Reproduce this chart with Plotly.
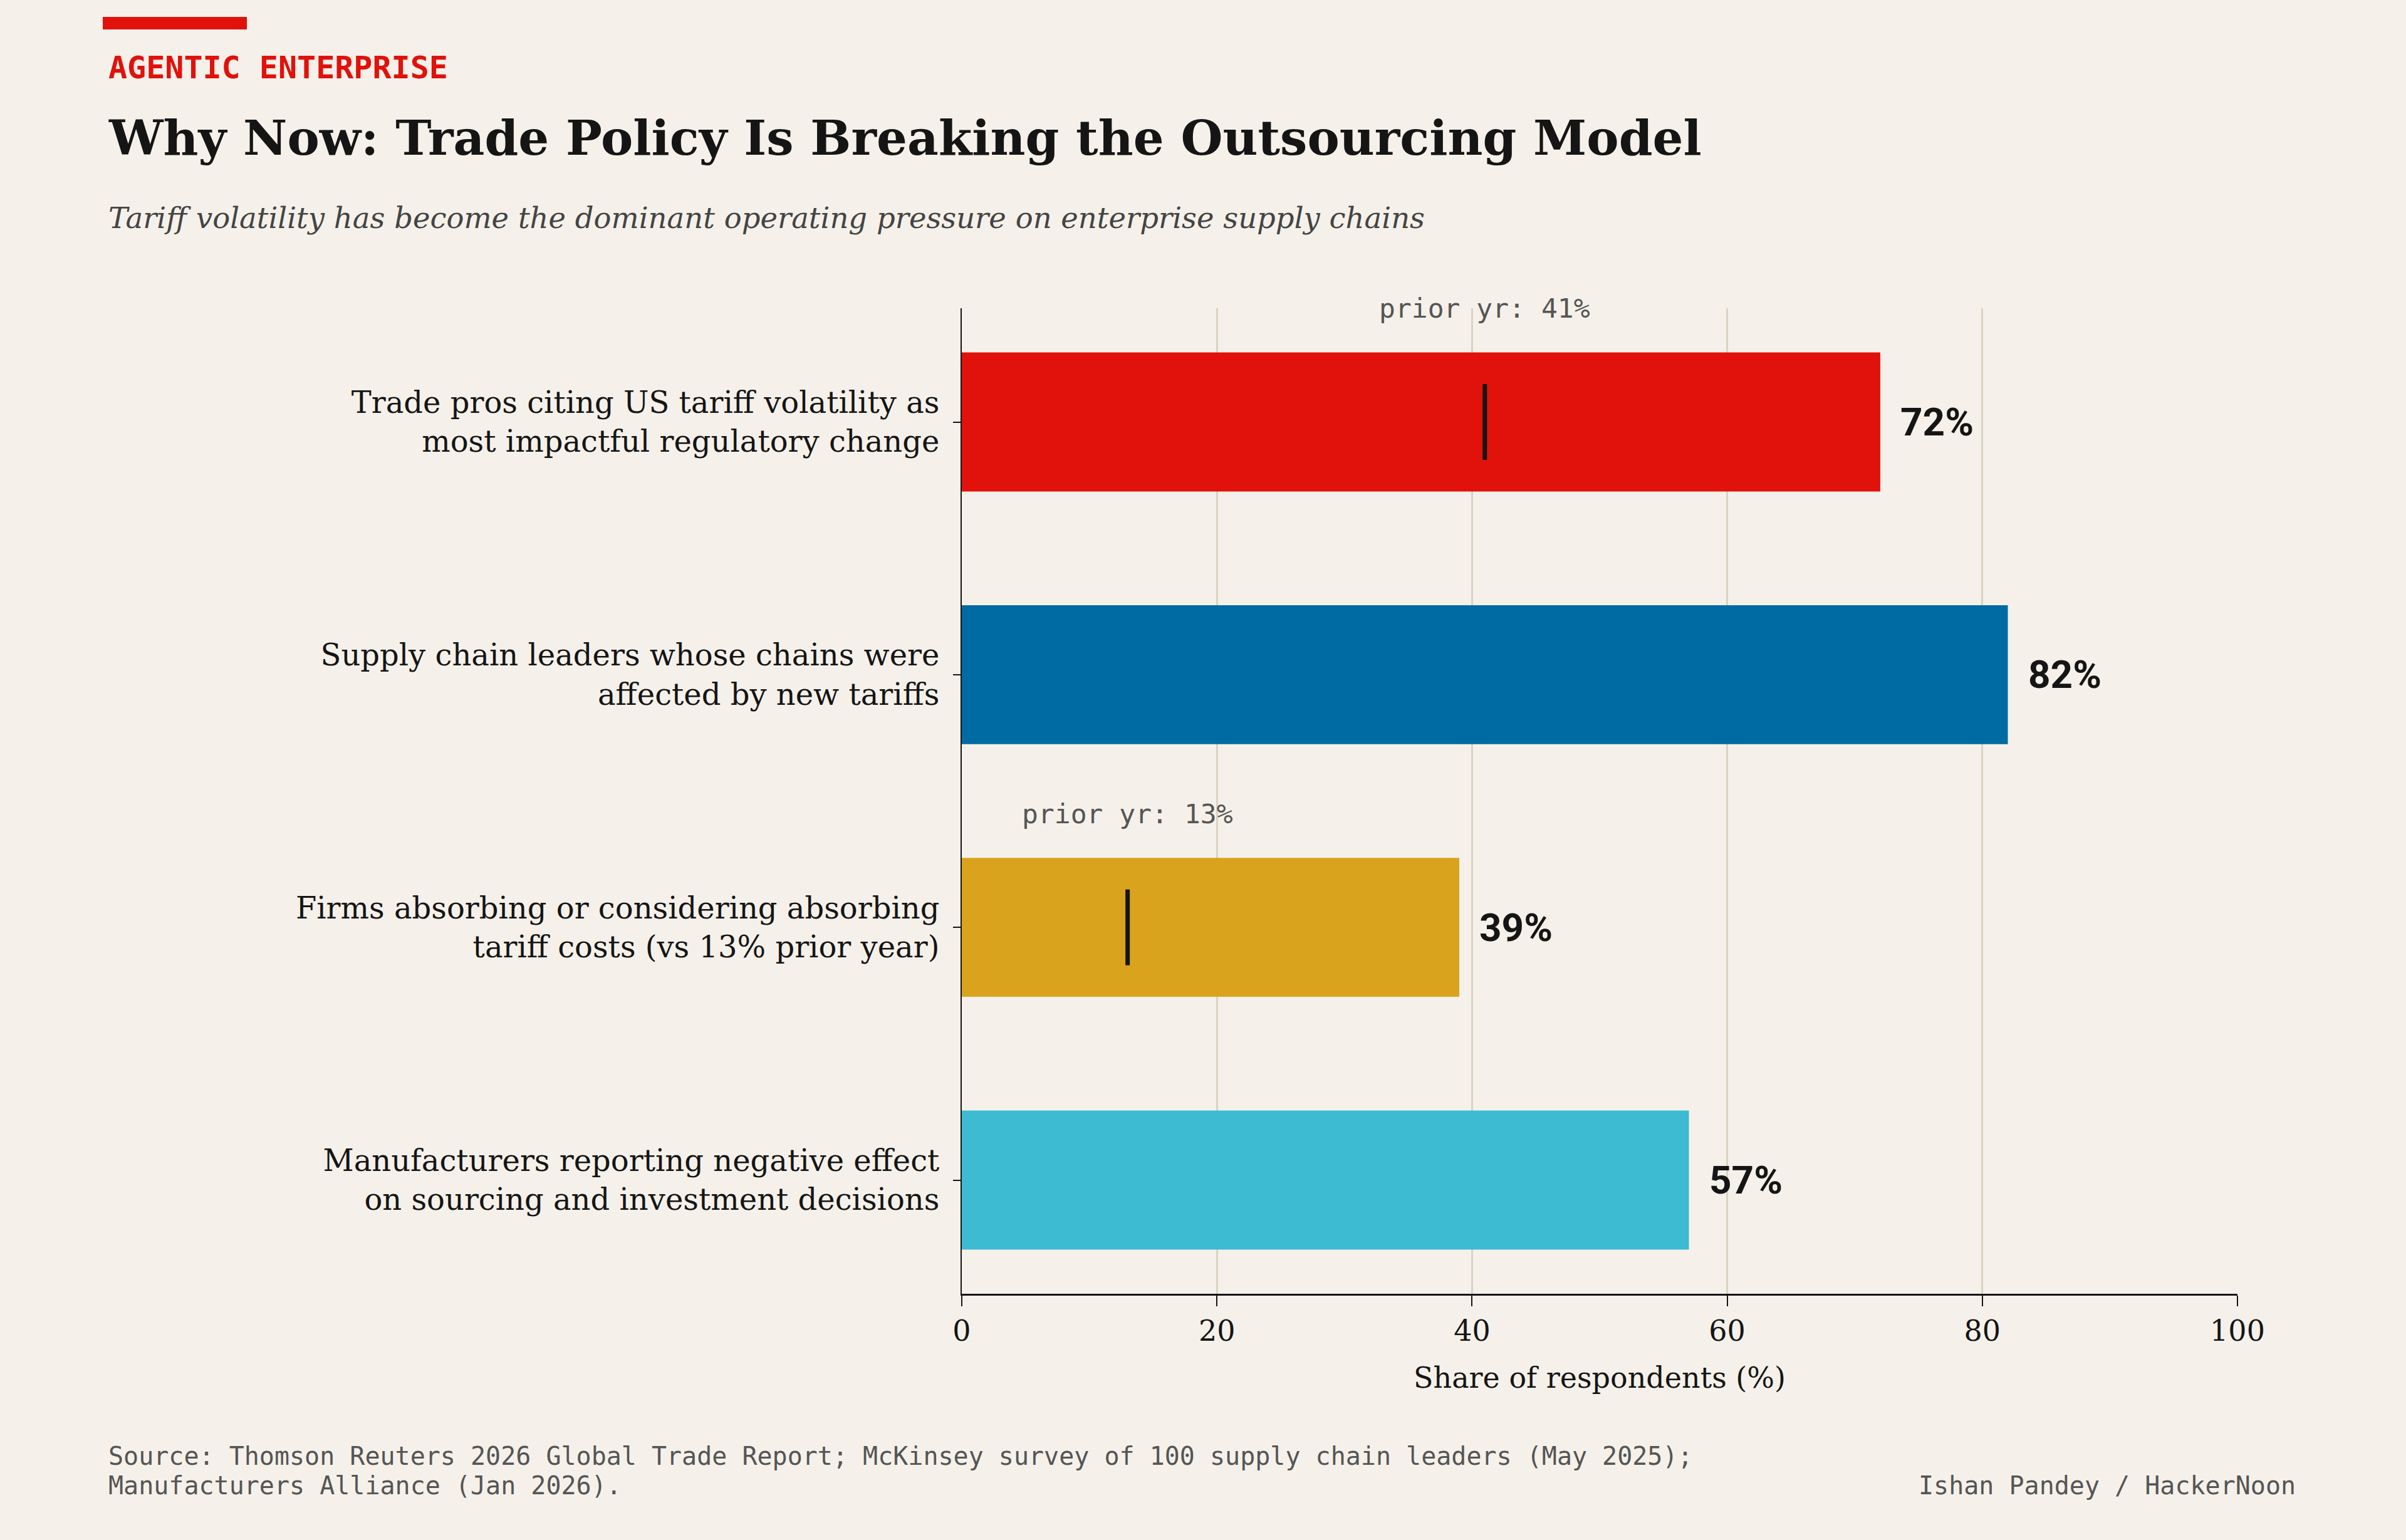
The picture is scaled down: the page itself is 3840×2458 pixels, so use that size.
import plotly.graph_objects as go

# chart data
categories = [
    "Trade pros citing US tariff volatility as<br>most impactful regulatory change",
    "Supply chain leaders whose chains were<br>affected by new tariffs",
    "Firms absorbing or considering absorbing<br>tariff costs (vs 13% prior year)",
    "Manufacturers reporting negative effect<br>on sourcing and investment decisions",
]
values = [72, 82, 39, 57]
prior_values = [41, None, 13, None]
bar_colors = ["#E1110B", "#006BA2", "#D9A31E", "#3DBBD2"]
x_ticks = [0, 20, 40, 60, 80, 100]

# page geometry (pixels)
W, H = 3840, 2458
L, R, T, B = 1535, 269, 492, 393
PW, PH = W - L - R, H - T - B

BG = "#F5F1EA"
SERIF = "DejaVu Serif"
MONO = "DejaVu Sans Mono"
SANS = "Roboto"


def px(x):
    return (x - L) / PW


def py(y):
    return (H - B - y) / PH


ypos = list(range(len(categories)))

fig = go.Figure()

fig.add_trace(go.Bar(
    x=values, y=ypos, orientation="h", width=0.55,
    marker=dict(color=bar_colors, line=dict(width=0)),
    hoverinfo="skip", showlegend=False,
))

# prior-year markers
mx, my = [], []
for i, p in enumerate(prior_values):
    if p is None:
        continue
    mx += [p, p, None]
    my += [i - 0.15, i + 0.15, None]
fig.add_trace(go.Scatter(
    x=mx, y=my, mode="lines", line=dict(color="#151515", width=7),
    hoverinfo="skip", showlegend=False,
))

# value labels
for i, v in enumerate(values):
    fig.add_annotation(
        x=v, y=i, text=f"<b>{v}%</b>", showarrow=False,
        xanchor="left", yanchor="middle", xshift=30,
        font=dict(family=SANS, size=62, color="#151515"),
    )

# prior-year labels
for i, p in enumerate(prior_values):
    if p is None:
        continue
    fig.add_annotation(
        x=p, y=i - 0.45, text=f"prior yr: {p}%", showarrow=False,
        xanchor="center", yanchor="middle",
        font=dict(family=MONO, size=43, color="#555555"),
    )

# header / footer
fig.add_shape(type="rect", xref="paper", yref="paper",
              x0=px(164), x1=px(394), y0=py(47), y1=py(27),
              fillcolor="#E1110B", line=dict(width=0))

header = [
    ("<b>AGENTIC ENTERPRISE</b>", 108, MONO, 50, "#E1110B"),
    ("<b>Why Now: Trade Policy Is Breaking the Outsourcing Model</b>", 220, SERIF, 77, "#151515"),
    ("<i>Tariff volatility has become the dominant operating pressure on enterprise supply chains</i>", 348, SERIF, 46.5, "#444444"),
    ("Source: Thomson Reuters 2026 Global Trade Report; McKinsey survey of 100 supply chain leaders (May 2025);", 2324, MONO, 40, "#555555"),
    ("Manufacturers Alliance (Jan 2026).", 2371, MONO, 40, "#555555"),
]
for text, y, fam, size, col in header:
    fig.add_annotation(
        xref="paper", yref="paper", x=px(171), y=py(y), text=text,
        showarrow=False, xanchor="left", yanchor="middle", align="left",
        font=dict(family=fam, size=size, color=col),
    )
fig.add_annotation(
    xref="paper", yref="paper", x=px(3666), y=py(2371),
    text="Ishan Pandey / HackerNoon", showarrow=False,
    xanchor="right", yanchor="middle",
    font=dict(family=MONO, size=40, color="#555555"),
)

fig.update_layout(
    width=W, height=H,
    margin=dict(l=L, r=R, t=T, b=B),
    paper_bgcolor=BG, plot_bgcolor=BG,
    bargap=0.45,
)
fig.update_xaxes(
    range=[0, 100], tickvals=x_ticks,
    showgrid=True, gridcolor="#D9D3C2", gridwidth=3,
    showline=True, linecolor="#151515", linewidth=3,
    ticks="outside", ticklen=17, tickwidth=2, tickcolor="#151515",
    tickfont=dict(family=SERIF, size=46, color="#151515"),
    title=dict(text="Share of respondents (%)", standoff=33,
               font=dict(family=SERIF, size=46, color="#151515")),
    zeroline=False,
)
fig.update_yaxes(
    range=[3.45, -0.45], tickvals=ypos, ticktext=categories,
    showgrid=False, zeroline=False,
    showline=True, linecolor="#151515", linewidth=2,
    ticks="outside", ticklen=12, tickwidth=2, tickcolor="#151515",
    ticklabelstandoff=12,
    tickfont=dict(family=SERIF, size=48, color="#151515"),
)

fig.write_html("out.html", config={"displayModeBar": False},
               post_script="document.body.style.margin='0';")
